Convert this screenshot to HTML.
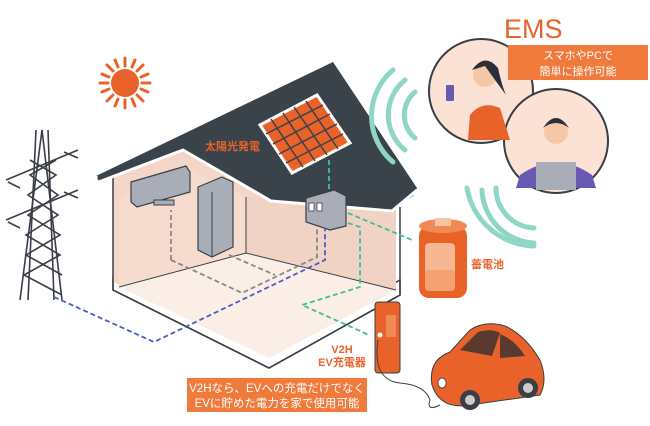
<!DOCTYPE html>
<html><head><meta charset="utf-8"><style>
html,body{margin:0;padding:0;background:#fff;}
svg{display:block;}
text{font-family:"Liberation Sans","Noto Sans CJK JP",sans-serif;}
</style></head><body>
<svg width="650" height="426" viewBox="0 0 650 426" xmlns="http://www.w3.org/2000/svg">
<!-- sun -->
<g stroke="#e8622a" stroke-width="3" stroke-linecap="round">
<line x1="125" y1="58" x2="125" y2="66"/><line x1="125" y1="100" x2="125" y2="108"/>
<line x1="100" y1="83" x2="108" y2="83"/><line x1="142" y1="83" x2="150" y2="83"/>
<line x1="107" y1="65" x2="113" y2="71"/><line x1="137" y1="95" x2="143" y2="101"/>
<line x1="143" y1="65" x2="137" y2="71"/><line x1="113" y1="95" x2="107" y2="101"/>
<line x1="115" y1="60" x2="118" y2="67"/><line x1="135" y1="60" x2="132" y2="67"/>
<line x1="115" y1="106" x2="118" y2="99"/><line x1="135" y1="106" x2="132" y2="99"/>
<line x1="102" y1="74" x2="109" y2="77"/><line x1="102" y1="92" x2="109" y2="89"/>
<line x1="148" y1="74" x2="141" y2="77"/><line x1="148" y1="92" x2="141" y2="89"/>
</g>
<circle cx="125" cy="83" r="14" fill="#e8622a"/>
<!-- tower -->
<g stroke="#3a3f46" stroke-width="1.6" fill="none">
<line x1="42" y1="130" x2="20" y2="300"/><line x1="42" y1="130" x2="62" y2="300"/>
<line x1="36" y1="130" x2="28" y2="300"/><line x1="48" y1="130" x2="54" y2="300"/>
<path d="M6 180 L78 150 M6 220 L78 190 M8 182 L20 188 M64 152 L78 158 M8 222 L20 228 M64 192 L78 198"/>
<path d="M30 160 L56 175 L28 195 L58 215 L26 235 L60 255 L24 275 L62 295 M56 160 L30 175 L58 195 L28 215 L60 235 L26 255 L62 275"/>
</g>
<!-- house floor/base -->
<polygon points="113,290 269,368 400,295 400,280 269,352 113,278" fill="#fff" stroke="#3a3f46" stroke-width="1.5"/>
<polygon points="113,177 183,150 271,200 396,207 396,290 269,358 113,282" fill="#f4d6c8"/>
<polygon points="119,287 246,253 396,290 269,358" fill="#fbeee6"/>
<polygon points="119,200 183,165 246,197 246,253 119,287" fill="#f6dccf"/>
<polygon points="246,197 396,210 396,290 246,253" fill="#f0d3c4"/>
<polyline points="113,177 113,290 269,368 400,295 400,207" fill="none" stroke="#3a3f46" stroke-width="1.5"/>
<polyline points="119,287 246,253 396,290" fill="none" stroke="#3a3f46" stroke-width="1"/>
<line x1="246" y1="197" x2="246" y2="253" stroke="#3a3f46" stroke-width="1"/>
<!-- roof -->
<polygon points="333,62 417,188 413,196 392,210 271,200 183,150 100,183 96,176" fill="#3a434a"/>
<polyline points="96,176 96,183 183,150 271,201 392,211 417,190" fill="none" stroke="#fff" stroke-width="3"/>
<!-- solar panel -->
<polygon points="260,125 317,95 350,143 292,173" fill="#e8622a" stroke="#fff" stroke-width="3"/>
<g stroke="#3a434a" stroke-width="1.5">
<line x1="271" y1="119" x2="303" y2="167"/><line x1="283" y1="113" x2="315" y2="161"/><line x1="294" y1="107" x2="327" y2="155"/><line x1="306" y1="101" x2="338" y2="149"/>
<line x1="266" y1="134" x2="323" y2="105"/><line x1="273" y1="144" x2="330" y2="114"/><line x1="279" y1="154" x2="337" y2="124"/><line x1="286" y1="163" x2="343" y2="134"/>
</g>
<text x="205" y="150" font-size="11" font-weight="bold" fill="#e8622a">太陽光発電</text>
<!-- aircon -->
<path d="M131,182 L186,166 L190,172 L190,192 L137,207 L131,202 Z" fill="#a9adb8" stroke="#3a3f46" stroke-width="1.2"/>
<rect x="154" y="200" width="20" height="5" fill="#a9adb8" stroke="#3a3f46" stroke-width="1"/>
<!-- fridge -->
<polygon points="198,187 222,177 233,182 233,247 212,257 198,250" fill="#a9adb8" stroke="#3a3f46" stroke-width="1.2"/>
<line x1="212" y1="192" x2="212" y2="257" stroke="#3a3f46"/>
<!-- panel box -->
<polygon points="306,198 334,190 346,196 346,226 330,230 306,222" fill="#a9adb8" stroke="#3a3f46" stroke-width="1.2"/>
<rect x="309" y="203" width="5" height="8" fill="#fff" stroke="#3a3f46" stroke-width=".8"/>
<rect x="317" y="203" width="5" height="8" fill="#fff" stroke="#3a3f46" stroke-width=".8"/>
<!-- dashed lines -->
<g fill="none" stroke-width="1.8" stroke-dasharray="5,3">
<polyline points="171,260 171,210" stroke="#888"/>
<polyline points="171,260 242,293 317,257 317,228" stroke="#888"/>
<polyline points="229,255 275,275" stroke="#888"/>
<polyline points="54,297 154,342 325,260 325,228" stroke="#4a5ec4"/>
<polyline points="329,160 329,192" stroke="#3dbf9c"/>
<polyline points="348,213 412,240" stroke="#3dbf9c"/>
<polyline points="348,223 360,227 360,287 302,305 369,335" stroke="#3dbf9c"/>
</g>
<!-- wifi arcs -->
<g fill="none" stroke="#8fd6c6" stroke-width="5" stroke-linecap="round">
<path d="M415,92 A30,30 0 0 0 415,138"/>
<path d="M405,80 A45,45 0 0 0 405,150"/>
<path d="M393,70 A60,60 0 0 0 393,162"/>
<path d="M496,188 A40,40 0 0 0 534,228"/>
<path d="M482,190 A55,55 0 0 0 534,243"/>
<path d="M467,188 A70,70 0 0 0 534,246"/>
</g>
<!-- circles -->
<circle cx="481" cy="91" r="52" fill="#fbe2d5" stroke="#3a3f46" stroke-width="2"/>
<circle cx="556" cy="141" r="52" fill="#fbe2d5" stroke="#3a3f46" stroke-width="2"/>
<path d="M470,115 Q482,100 500,108 L510,140 L468,140 Z" fill="#e8622a"/>
<circle cx="485" cy="75" r="12" fill="#f5c7a9"/>
<path d="M472,70 Q485,52 498,68 Q502,86 506,95 Q495,80 485,66 Z" fill="#2d2f36"/>
<rect x="446" y="85" width="8" height="16" rx="1" fill="#6a58b5"/>
<path d="M520,175 Q556,150 592,175 L596,188 L516,188 Z" fill="#6a58b5"/>
<circle cx="556" cy="132" r="12" fill="#f5c7a9"/>
<path d="M543,128 Q556,108 569,128 Q556,118 543,128 Z" fill="#2d2f36"/>
<rect x="536" y="162" width="40" height="28" fill="#a9adb8"/>
<!-- EMS -->
<text x="504" y="38" font-size="27" fill="#e8622a">EMS</text>
<rect x="508" y="45" width="140" height="35" fill="#ef7a3c"/>
<text x="578" y="59" font-size="11" fill="#fff" text-anchor="middle">スマホやPCで</text>
<text x="578" y="75" font-size="11" fill="#fff" text-anchor="middle">簡単に操作可能</text>
<!-- battery -->
<rect x="419" y="226" width="48" height="72" rx="10" fill="#e8622a"/>
<ellipse cx="443" cy="226" rx="24" ry="7" fill="#f08a55"/>
<rect x="435" y="218" width="16" height="8" fill="#f6c5a3"/>
<rect x="425" y="243" width="30" height="48" rx="4" fill="#f7b793"/>
<rect x="425" y="270" width="30" height="21" rx="4" fill="#f4a070"/>
<text x="471" y="268" font-size="11" font-weight="bold" fill="#e8622a">蓄電池</text>
<!-- charger -->
<rect x="375" y="302" width="25" height="71" rx="3" fill="#e8622a" stroke="#3a3f46" stroke-width="1"/>
<rect x="386" y="315" width="10" height="22" fill="#f08a55"/>
<circle cx="380" cy="335" r="2.5" fill="#fff"/>
<text x="342" y="353" font-size="11" font-weight="bold" fill="#e8622a" text-anchor="middle">V2H</text>
<text x="342" y="366" font-size="11" font-weight="bold" fill="#e8622a" text-anchor="middle">EV充電器</text>
<path d="M378,340 Q372,380 400,383 Q425,385 430,400 Q426,412 440,405" fill="none" stroke="#3a3f46" stroke-width="1"/>
<!-- car -->
<path d="M432,385 Q428,360 450,352 L470,330 Q485,320 505,326 Q525,335 540,360 Q548,380 540,395 L470,405 Q440,410 432,385 Z" fill="#e8622a" stroke="#3a3f46" stroke-width="1"/>
<path d="M460,350 L478,332 Q492,328 500,333 L492,356 Z" fill="#5a3a2e"/>
<path d="M500,334 Q515,340 525,356 L500,358 Z" fill="#5a3a2e"/>
<circle cx="470" cy="400" r="10" fill="#3a3f46"/><circle cx="470" cy="400" r="5" fill="#ccc"/>
<circle cx="528" cy="388" r="10" fill="#3a3f46"/><circle cx="528" cy="388" r="5" fill="#ccc"/>
<ellipse cx="442" cy="383" rx="4" ry="5" fill="#fff" stroke="#3a3f46" stroke-width=".8"/>
<!-- bottom box -->
<rect x="187" y="378" width="180" height="34" fill="#ef7a3c"/>
<text x="277" y="392" font-size="11.5" fill="#fff" text-anchor="middle">V2Hなら、EVへの充電だけでなく</text>
<text x="277" y="407" font-size="11.5" fill="#fff" text-anchor="middle">EVに貯めた電力を家で使用可能</text>
</svg>
</body></html>
